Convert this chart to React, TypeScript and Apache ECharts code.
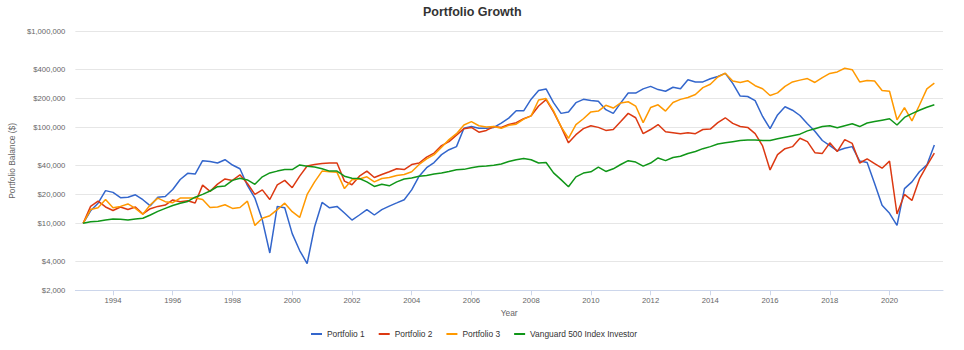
import React, { useEffect, useRef } from "react";
import * as echarts from "echarts";

// Quarterly observation times (decimal years), Jan 1993 .. Jul 2021
const firstYear = 1993;
const pointCount = 115;
const quarterTimes: number[] = [];
for (let i = 0; i < pointCount; i++) {
  quarterTimes.push(firstYear + i / 4);
}

const seriesNames = ["Portfolio 1", "Portfolio 2", "Portfolio 3", "Vanguard 500 Index Investor"];
const seriesColors = ["#3366cc", "#dc3912", "#ff9900", "#109618"];

const portfolio1 = [
  10000, 13500, 16200, 21900,
  21000, 18500, 18700, 19800,
  17600, 15200, 18700, 19000,
  22500, 28600, 33200, 32600,
  45000, 44000, 42500, 46000,
  40500, 37000, 24800, 18300,
  10800, 4900, 15000, 14500,
  7800, 5200, 3800, 9200,
  16500, 14500, 15000, 12800,
  10800, 12200, 13900, 12200,
  13900, 15100, 16300, 17600,
  22300, 31000, 38000, 43000,
  52000, 58500, 63000, 98000,
  102000, 98000, 98000, 100000,
  111000, 125000, 149000, 149000,
  197000, 243000, 252000, 181000,
  140000, 145000, 181000, 196000,
  191000, 187000, 153000, 140000,
  180000, 228000, 228000, 252000,
  268000, 248000, 238000, 262000,
  253000, 314000, 298000, 298000,
  322000, 340000, 366000, 288000,
  212000, 210000, 190000, 130000,
  97000, 135000, 164000, 151000,
  133000, 109000, 91000, 73000,
  64500, 57000, 60500, 63000,
  44500, 43000, 26000, 15400,
  12700, 9500, 23000, 27000,
  34500, 40600, 65500,
];

const portfolio2 = [
  10000, 15000, 17000, 14800,
  13600, 14800, 13900, 14800,
  12500, 14200, 15000, 15500,
  17500, 16800, 17200, 16300,
  25000, 21500, 25600, 29000,
  28000, 32000, 26000, 20000,
  22300, 17700, 25200, 28000,
  23500, 31000, 39500, 41000,
  42000, 42500, 42500, 27500,
  25200, 31000, 35000, 30000,
  32300, 34500, 37000, 36300,
  41000, 42500, 49000, 54000,
  64500, 71000, 83000, 97000,
  100000, 89000, 93000, 102000,
  100000, 107000, 112000, 123000,
  132000, 167000, 195000, 145000,
  102000, 69000, 84000, 97000,
  104000, 100000, 93000, 95000,
  115000, 140000, 126000, 86000,
  95000, 107000, 90000, 88000,
  86000, 88000, 86000, 95000,
  96000, 112000, 126000, 110000,
  102000, 100000, 86000, 64000,
  36000, 52000, 60000, 63000,
  77000, 71000, 54500, 53500,
  69000, 56000, 74500, 68000,
  42500, 47000, 42000, 37500,
  44500, 12500, 20000, 17300,
  29000, 40000, 54000,
];

const portfolio3 = [
  10000, 13900, 14500, 17700,
  14500, 15000, 15900, 14300,
  12400, 15600, 18300, 16800,
  16400, 18300, 18300, 18300,
  17700, 14600, 14800, 15600,
  14300, 14600, 17000, 9500,
  11300, 12000, 13900, 16200,
  13200, 11500, 20000, 27000,
  35000, 34500, 34000, 23000,
  28500, 29000, 30500, 27000,
  29300, 30000, 31500, 32300,
  34500, 41000, 47000, 52000,
  62000, 74500, 86000, 106000,
  115000, 104000, 101000, 102000,
  98000, 105000, 108000, 122000,
  132000, 193000, 200000, 149000,
  102000, 77000, 107000, 123000,
  145000, 148000, 170000, 159000,
  180000, 185000, 167000, 112000,
  161000, 172000, 148000, 182000,
  196000, 205000, 220000, 260000,
  282000, 335000, 367000, 305000,
  294000, 307000, 272000, 253000,
  215000, 229000, 268000, 298000,
  311000, 323000, 294000, 330000,
  365000, 379000, 414000, 400000,
  298000, 309000, 305000, 243000,
  238000, 120000, 161000, 117000,
  170000, 252000, 290000,
];

const vanguard500 = [
  10000, 10400, 10500, 10800,
  11100, 11000, 10800, 11100,
  11300, 12200, 13300, 14300,
  15300, 16200, 16900, 18700,
  20000, 21700, 24100, 24500,
  28000, 29500, 28300, 25500,
  30500, 33500, 35000, 36300,
  36300, 40600, 39300, 38700,
  37000, 35000, 35000, 31000,
  29500, 29300, 27000, 24200,
  25500, 24600, 27000, 29000,
  29600, 31000, 31500, 32600,
  33400, 34700, 36200, 36500,
  38000, 39000, 39500, 40300,
  41600, 44000, 46000, 47500,
  46000, 42500, 43000, 33500,
  28500, 24000, 30500, 33400,
  34400, 38500, 34700, 37000,
  41000, 45000, 43500, 39500,
  42500, 48000, 45000, 48500,
  50000, 53500, 56000, 60000,
  63000, 67000, 69000, 71000,
  73000, 74000, 74000, 73000,
  73000, 76000, 79000, 82000,
  85000, 92000, 97000, 102000,
  104000, 99000, 104000, 109000,
  102000, 111000, 115000, 119000,
  123000, 106000, 127000, 139000,
  151000, 162000, 172000,
];

const yTickValues = [2000, 4000, 10000, 20000, 40000, 100000, 200000, 400000, 1000000];
const xTickYears = [1994, 1996, 1998, 2000, 2002, 2004, 2006, 2008, 2010, 2012, 2014, 2016, 2018, 2020];

const FONT = "'Liberation Sans', Arial, Helvetica, sans-serif";

export default function App() {
  const ref = useRef<HTMLDivElement>(null);

  useEffect(() => {
    document.body.style.margin = "0";
    if (!ref.current) return;
    const chart = echarts.init(ref.current, undefined, { renderer: "svg" });
    const allSeries = [portfolio1, portfolio2, portfolio3, vanguard500];

    chart.setOption({
      animation: false,
      backgroundColor: "#ffffff",
      textStyle: { fontFamily: FONT },
      title: {
        text: "Portfolio Growth",
        left: 423,
        top: 5,
        padding: 0,
        textStyle: { fontSize: 12.5, fontWeight: "bold", color: "#333333", fontFamily: FONT },
      },
      legend: {
        data: seriesNames,
        left: 311,
        top: 330,
        padding: 0,
        itemWidth: 11,
        itemHeight: 2,
        itemGap: 14,
        icon: "rect",
        textStyle: { fontSize: 8.4, color: "#333333", fontFamily: FONT },
      },
      grid: { left: 68, right: 21, top: 31.5, bottom: 59.7, containLabel: false },
      xAxis: {
        type: "value",
        min: 1992.74,
        max: 2021.79,
        name: "Year",
        nameLocation: "middle",
        nameGap: 18,
        nameTextStyle: { fontSize: 8.4, color: "#666666", fontFamily: FONT },
        axisLine: { show: true, lineStyle: { color: "#ccd6eb", width: 1 } },
        axisTick: { show: true, length: 5, lineStyle: { color: "#ccd6eb" }, customValues: xTickYears },
        axisLabel: {
          customValues: xTickYears,
          formatter: (v: number) => String(Math.round(v)),
          color: "#666666",
          fontSize: 7.7,
          margin: 6,
          fontFamily: FONT,
        },
        splitLine: { show: false },
      },
      yAxis: {
        type: "log",
        logBase: 10,
        min: 2000,
        max: 1000000,
        name: "Portfolio Balance ($)",
        nameLocation: "middle",
        nameGap: 54,
        nameRotate: 90,
        nameTextStyle: { fontSize: 8.4, color: "#666666", fontFamily: FONT },
        axisLine: { show: false },
        axisTick: { show: false, customValues: yTickValues },
        axisLabel: {
          customValues: yTickValues,
          formatter: (v: number) => "$" + Math.round(v).toLocaleString("en-US"),
          color: "#666666",
          fontSize: 7.7,
          margin: 10,
          fontFamily: FONT,
        },
        splitLine: { show: true, lineStyle: { color: "#e6e6e6", width: 1 } },
      },
      series: allSeries.map((vals, i) => ({
        name: seriesNames[i],
        type: "line",
        data: vals.map((v, j) => [quarterTimes[j], v]),
        showSymbol: false,
        symbol: "none",
        color: seriesColors[i],
        lineStyle: { width: 1.5, color: seriesColors[i] },
        emphasis: { disabled: true },
      })),
    });

    return () => chart.dispose();
  }, []);

  return <div ref={ref} style={{ width: 964, height: 350 }} />;
}
